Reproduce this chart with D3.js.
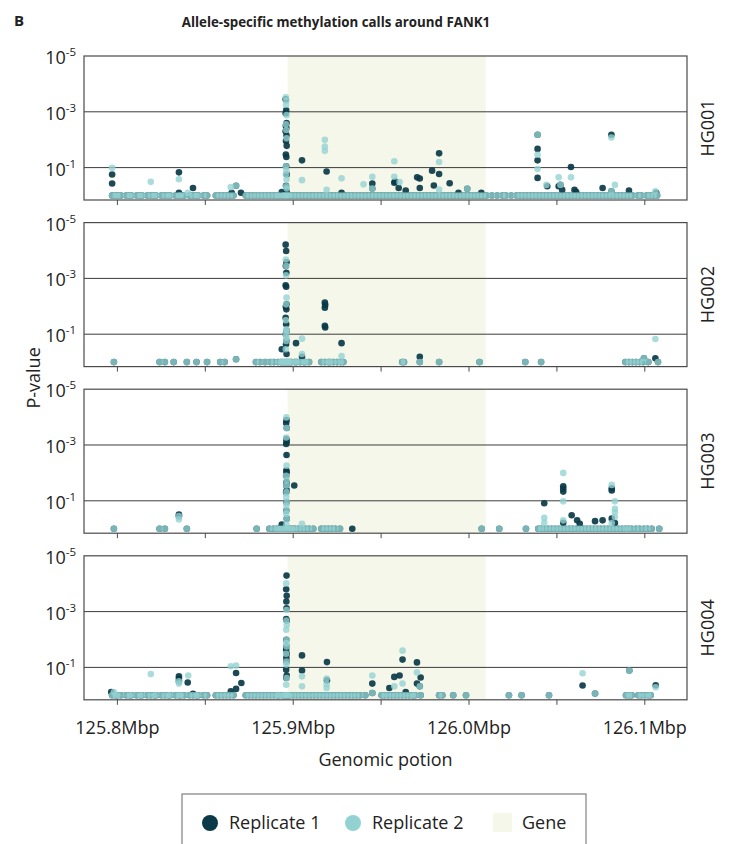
<!DOCTYPE html>
<html>
<head>
<meta charset="utf-8">
<script src="https://cdn.jsdelivr.net/npm/d3@7"></script>
<style>
  body { margin: 0; background: #fff; }
  svg { font-family: "Open Sans", "DejaVu Sans", sans-serif; }
</style>
</head>
<body>
<div id="chart"></div>
<script>
// samples (facets) and gene region
const samples = ["HG001", "HG002", "HG003", "HG004"];
const geneStart = 125.8968, geneEnd = 126.0095;
const xTicks = [125.8, 125.85, 125.9, 125.95, 126.0, 126.05, 126.1];
const xLabelTicks = [125.8, 125.9, 126.0, 126.1];
const yTicks = [1e-5, 1e-3, 1e-1];
const yGrid = [1e-3, 1e-1];

// positions (Mbp) where both replicates give p ~ 1
const hg001Base = [125.797,125.799,125.800,125.802,125.805,125.807,125.808,125.811,125.813,125.814,125.817,125.819,125.821,125.822,125.825,125.827,125.829,125.830,125.833,125.835,125.836,125.838,125.841,125.843,125.845,125.846,125.849,125.851,
  125.856,125.858,125.860,125.862,125.864,125.866,
  125.873,125.875,125.877,125.879,125.881,125.883,125.885,125.887,125.889,125.891,125.892,125.894,125.895,125.896,125.897,125.898,125.900,125.902,125.904,125.906,125.908,125.910,125.912,125.914,125.916,125.918,125.920,125.922,125.924,125.926,125.928,125.930,125.932,125.934,125.936,125.938,125.940,125.942,125.944,125.946,125.948,125.950,125.952,125.954,125.956,125.958,125.960,125.962,125.964,125.966,125.968,125.970,125.972,125.974,125.976,125.978,125.980,125.982,125.984,125.986,125.988,125.990,125.992,125.994,125.996,125.998,126.000,126.002,126.004,126.006,126.008,126.010,126.013,
  126.016,126.019,126.021,126.024,126.027,126.029,126.031,126.033,126.035,126.037,126.039,126.041,126.043,126.045,126.047,126.049,126.051,126.053,126.055,126.057,126.059,126.061,126.063,126.065,126.067,126.069,126.071,126.073,126.075,126.077,126.079,126.081,126.083,126.085,126.087,126.089,126.091,126.093,126.096,126.098,126.101,126.103,126.105,126.107];
const hg002Base = [125.798,125.824,125.827,125.832,125.8395,125.845,125.851,125.8585,125.861,125.8788,125.881,125.884,125.887,125.889,125.8915,
  125.893,125.894,125.895,125.896,125.897,125.898,125.899,125.901,125.902,125.904,125.906,125.907,125.909,
  125.916,125.918,125.920,125.921,125.923,125.925,125.927,125.9285,
  125.962,125.963,125.972,125.983,126.006,126.032,126.041,126.089,126.091,126.093,126.095,126.097,126.099,126.102,126.1075];
const hg003Base = [125.798,125.824,125.827,125.8395,125.8792,125.8864,125.8887,
  125.8906,125.892,125.8935,125.895,125.8965,125.898,125.8995,125.901,125.903,125.905,125.907,125.909,125.9114,
  125.916,125.918,125.920,125.922,125.924,125.9266,
  126.0072,126.0172,126.0324,
  126.0394,126.041,126.043,126.045,126.047,126.049,126.051,126.053,126.055,126.057,126.059,126.061,126.063,126.065,126.067,126.069,126.071,126.073,126.075,126.077,126.079,126.081,126.083,126.085,126.087,126.089,126.0906,
  126.0925,126.095,126.097,126.0995,126.1015,126.1039,126.1082];
const hg004Base = [125.797,125.799,125.800,125.802,125.805,125.807,125.808,125.811,125.813,125.814,125.817,125.819,125.821,125.822,125.825,125.827,125.829,125.830,125.833,125.835,125.836,125.838,125.841,125.843,125.845,125.846,125.849,125.851,
  125.856,125.858,125.860,125.862,125.864,125.866,
  125.873,125.875,125.877,125.879,125.881,125.883,125.885,125.887,125.889,125.891,125.892,125.894,125.895,125.896,125.897,125.898,125.900,125.902,125.904,125.906,125.908,125.910,125.912,125.914,125.916,125.918,125.920,125.922,125.924,125.926,125.928,125.930,125.932,125.934,125.936,125.938,125.941,
  125.9503,125.952,125.954,125.956,125.958,125.960,125.962,125.964,125.966,125.968,125.9693,125.9725,125.983,125.9848,125.991,125.9983,126.0227,126.0299,126.0455,126.0893,126.091,126.0925,126.0963,126.098,126.100,126.102,126.1033];

// [position Mbp, -log10(p)] for calls above the baseline
const hg001Rep1 = [[125.797,0.75],[125.797,0.43],[125.835,0.83],[125.835,0.1],[125.843,0.27],[125.8675,0.35],[125.865,0.1],[125.8703,0.1],[125.8935,0.12],
  [125.8957,3.45],[125.8960,3.05],[125.8957,2.95],[125.8962,2.6],[125.8958,2.5],[125.8961,2.42],[125.8957,2.3],[125.8962,2.15],[125.8959,1.95],[125.8963,1.78],[125.8958,1.47],[125.8961,1.38],[125.8960,1.05],[125.8963,0.75],[125.8959,0.35],[125.8962,0.15],
  [125.905,1.26],[125.919,0.86],[125.9275,0.1],
  [125.945,0.43],[125.945,0.25],[125.9575,0.46],[125.958,0.5],[125.960,0.27],[125.964,0.18],[125.9705,0.65],[125.972,0.61],[125.972,0.27],[125.979,0.89],[125.980,0.36],[125.983,1.51],[125.983,0.77],[125.989,0.44],[125.994,0.1],[125.999,0.24],[126.007,0.1],
  [126.039,2.18],[126.039,1.67],[126.039,1.26],[126.039,0.63],[126.0445,0.33],[126.051,0.33],[126.052,0.38],[126.053,0.2],[126.058,1.02],[126.060,0.2],[126.061,0.12],[126.076,0.27],[126.081,2.18],[126.081,0.15],[126.091,0.18],[126.1065,0.1]];
const hg001Rep2 = [[125.797,0.99],[125.819,0.49],[125.835,0.58],[125.840,0.1],[125.8645,0.3],[125.8675,0.35],
  [125.8958,3.52],[125.8961,3.4],[125.8959,3.25],[125.8962,2.88],[125.8958,2.55],[125.8961,2.35],[125.8963,2.05],[125.8958,1.05],[125.8961,0.9],[125.8959,0.75],[125.8962,0.57],[125.8960,0.33],[125.8963,0.25],
  [125.905,0.55],[125.918,2.0],[125.918,1.75],[125.918,1.6],[125.919,0.2],[125.9275,0.62],[125.940,0.4],
  [125.945,0.67],[125.945,0.25],[125.9575,1.23],[125.9575,0.67],[125.9605,0.48],[125.983,1.2],[125.983,0.21],[125.999,0.24],[126.039,2.18],[126.039,1.46],[126.039,0.95],[126.044,0.38],[126.051,0.65],[126.052,0.38],[126.058,0.65],[126.081,2.08],[126.081,0.15],[126.083,0.38],[126.106,0.15]];

const hg002Rep1 = [[125.8675,0.1],[125.8935,0.46],
  [125.8957,4.21],[125.8960,3.98],[125.8962,3.58],[125.8958,3.44],[125.8961,3.2],[125.8957,2.75],[125.8960,2.7],[125.8962,2.07],[125.8958,1.98],[125.8961,1.89],[125.8957,1.59],[125.8960,1.36],[125.8963,1.12],[125.8958,1.0],[125.8961,0.76],[125.8959,0.64],[125.8962,0.29],
  [125.9016,0.68],[125.905,0.19],[125.918,2.13],[125.9182,2.05],[125.918,1.95],[125.918,1.3],[125.9182,1.24],[125.9275,0.68],
  [125.972,0.19],[126.0995,0.14],[126.106,0.14]];
const hg002Rep2 = [[125.8675,0.1],
  [125.8958,3.68],[125.8961,3.44],[125.8959,3.11],[125.8962,2.31],[125.8960,2.07],[125.8958,1.5],[125.8961,1.18],[125.8963,1.12],[125.8959,1.0],[125.8962,0.88],[125.8960,0.76],[125.8958,0.46],
  [125.905,0.84],[125.905,0.29],[125.9275,0.22],[126.0995,0.14],[126.106,0.83]];

const hg003Rep1 = [[125.835,0.51],[125.835,0.45],
  [125.8962,3.89],[125.8960,3.79],[125.8963,3.61],[125.8961,3.21],[125.8963,3.12],[125.8960,3.04],[125.8962,2.64],[125.8961,2.08],[125.8963,2.02],[125.8960,1.9],[125.8962,1.67],[125.8961,1.55],[125.8963,1.37],[125.8960,1.31],[125.8962,0.95],[125.8961,0.65],[125.8963,0.36],
  [125.8935,0.15],[125.9006,1.55],[125.9336,0],
  [126.0428,0.91],[126.0536,1.52],[126.0536,1.43],[126.0536,1.33],[126.0536,0.21],[126.0584,0.48],[126.0615,0.3],[126.063,0.18],[126.0717,0.27],[126.076,0.3],[126.0812,1.45],[126.0812,1.37],[126.0812,0.36],[126.083,0.2]];
const hg003Rep2 = [[125.835,0.33],[125.835,0.45],
  [125.8961,3.99],[125.8963,3.61],[125.8960,3.27],[125.8962,2.26],[125.8960,1.9],[125.8963,1.73],[125.8961,1.55],[125.8962,1.31],[125.8960,1.13],[125.8963,0.95],[125.8961,0.83],[125.8962,0.65],[125.8960,0.54],[125.8963,0.36],[125.8961,0.14],
  [125.905,0.18],
  [126.0428,0.39],[126.0428,0.21],[126.0536,2.0],[126.0536,0.98],[126.0536,0.3],[126.0812,1.57],[126.083,0.98],[126.083,0.71],[126.083,0.59],[126.083,0.42],[126.0812,0.2]];

const hg004Rep1 = [[125.7965,0.12],[125.835,0.68],[125.835,0.6],[125.835,0.5],[125.840,0.46],[125.843,0.05],[125.8675,0.8],[125.8705,0.44],[125.8675,0.23],[125.8645,0.14],
  [125.8962,4.29],[125.8960,3.8],[125.8963,3.57],[125.8961,3.36],[125.8962,3.12],[125.8960,2.73],[125.8963,2.68],[125.8961,1.99],[125.8962,1.75],[125.8960,1.63],[125.8963,1.49],[125.8961,1.34],[125.8962,1.21],[125.8960,0.92],[125.8963,0.71],[125.8961,0.62],
  [125.905,1.43],[125.905,0.89],[125.9192,1.19],[125.9192,0.54],
  [125.945,0.42],[125.945,0.08],[125.9547,0.26],[125.9575,0.66],[125.9605,0.71],[125.9622,1.28],[125.964,0.12],[125.9704,1.18],[125.9704,0.42],[125.9725,0.64],[125.972,0.32],[126.0646,0.35],[126.0717,0.06],[126.0912,0.89],[126.1062,0.36]];
const hg004Rep2 = [[125.798,0.12],[125.819,0.76],[125.835,0.42],[125.835,0.5],[125.8403,0.71],[125.8645,1.04],[125.8675,1.07],
  [125.8960,4.01],[125.8962,3.06],[125.8961,2.68],[125.8963,2.52],[125.8960,2.35],[125.8962,1.99],[125.8961,1.87],[125.8963,1.75],[125.8960,1.49],[125.8962,1.21],[125.8961,1.1],[125.8963,0.62],[125.8960,0.38],
  [125.905,0.68],[125.905,0.32],[125.919,0.6],[125.919,0.4],[125.919,0.26],
  [125.945,0.71],[125.945,0.08],[125.9575,0.32],[125.9622,1.6],[125.9622,0.42],[125.9704,0.82],[125.972,0.32],[126.0646,0.79],[126.0717,0.06],[126.0912,0.89],[126.1062,0.29]];

const baseBySample = [hg001Base, hg002Base, hg003Base, hg004Base];
const rep1BySample = [hg001Rep1, hg002Rep1, hg003Rep1, hg004Rep1];
const rep2BySample = [hg001Rep2, hg002Rep2, hg003Rep2, hg004Rep2];

const colRep1 = "#0a3a48", colRep2 = "#93d2d2", colGene = "#f5f7ea";

const width = 730, height = 844;
const left = 84, plotW = 603, panelH = 144, firstTop = 56, panelStep = 166.6;

const svg = d3.select("#chart").append("svg")
  .attr("width", width).attr("height", height);

const x = d3.scaleLinear().domain([125.781, 126.124]).range([0, plotW]);
const y = d3.scaleLog().domain([1.45, 1e-5]).range([panelH, 0]);
const pOf = v => Math.pow(10, -v);

// title
svg.append("text").attr("x", 14).attr("y", 26)
  .attr("font-size", 15).attr("font-weight", "bold").attr("fill", "#222").text("B");
svg.append("text").attr("x", 336).attr("y", 27).attr("text-anchor", "middle")
  .attr("font-size", 13.3).attr("font-weight", "bold").attr("fill", "#222")
  .text("Allele-specific methylation calls around FANK1");

samples.forEach((s, i) => {
  const g = svg.append("g").attr("transform", `translate(${left},${firstTop + i * panelStep})`);

  // gene shading
  g.append("rect").attr("x", x(geneStart)).attr("y", 0)
    .attr("width", x(geneEnd) - x(geneStart)).attr("height", panelH)
    .attr("fill", colGene);

  // grid lines
  g.selectAll(".grid").data(yGrid).enter().append("line")
    .attr("x1", 0).attr("x2", plotW)
    .attr("y1", d => y(d)).attr("y2", d => y(d))
    .attr("stroke", "#3c3c3c").attr("stroke-width", 1);

  // replicate 1 under replicate 2
  const r1 = baseBySample[i].map(p => [p, 0]).concat(rep1BySample[i]);
  const r2 = baseBySample[i].map(p => [p, 0]).concat(rep2BySample[i]);
  g.selectAll(".r1").data(r1).enter().append("circle")
    .attr("cx", d => x(d[0])).attr("cy", d => y(pOf(d[1])))
    .attr("r", 3.3).attr("fill", colRep1).attr("fill-opacity", 0.92);
  g.selectAll(".r2").data(r2).enter().append("circle")
    .attr("cx", d => x(d[0])).attr("cy", d => y(pOf(d[1])))
    .attr("r", 3.3).attr("fill", colRep2).attr("fill-opacity", 0.78);

  // frame
  g.append("rect").attr("width", plotW).attr("height", panelH)
    .attr("fill", "none").attr("stroke", "#4a4a4a").attr("stroke-width", 1.2);

  // x tick marks
  g.selectAll(".tick").data(xTicks).enter().append("line")
    .attr("x1", d => x(d)).attr("x2", d => x(d))
    .attr("y1", panelH).attr("y2", panelH + 5)
    .attr("stroke", "#4a4a4a").attr("stroke-width", 1);

  // y tick labels
  yTicks.forEach(t => {
    const lab = g.append("text").attr("x", -8).attr("y", y(t) + 8)
      .attr("text-anchor", "end").attr("fill", "#222").attr("font-size", 18);
    lab.append("tspan").text("10");
    lab.append("tspan").attr("font-size", 11.5).attr("dy", -8)
      .text("-" + Math.round(-Math.log10(t)));
  });

  // facet label
  g.append("text")
    .attr("transform", `translate(${plotW + 22},${panelH / 2}) rotate(-90)`)
    .attr("text-anchor", "middle").attr("dominant-baseline", "middle")
    .attr("font-size", 18).attr("fill", "#222").text(s);
});

// x labels
const lastTop = firstTop + 3 * panelStep;
svg.selectAll(".xlab").data(xLabelTicks).enter().append("text")
  .attr("x", d => left + x(d)).attr("y", lastTop + panelH + 34)
  .attr("text-anchor", "middle").attr("font-size", 18).attr("fill", "#222")
  .text(d => d.toFixed(1) + "Mbp");

svg.append("text").attr("x", left + plotW / 2).attr("y", 766)
  .attr("text-anchor", "middle").attr("font-size", 18).attr("fill", "#222")
  .text("Genomic potion");

svg.append("text")
  .attr("transform", `translate(35,${firstTop + (3 * panelStep + panelH) / 2}) rotate(-90)`)
  .attr("text-anchor", "middle").attr("dominant-baseline", "middle")
  .attr("font-size", 18).attr("fill", "#222").text("P-value");

// legend
const leg = svg.append("g");
leg.append("rect").attr("x", 182).attr("y", 794).attr("width", 404).attr("height", 60)
  .attr("fill", "#fff").attr("stroke", "#666").attr("stroke-width", 1);
leg.append("circle").attr("cx", 210).attr("cy", 823).attr("r", 8).attr("fill", colRep1);
leg.append("text").attr("x", 229).attr("y", 829).attr("font-size", 18).attr("fill", "#222").text("Replicate 1");
leg.append("circle").attr("cx", 353).attr("cy", 823).attr("r", 8).attr("fill", colRep2);
leg.append("text").attr("x", 372).attr("y", 829).attr("font-size", 18).attr("fill", "#222").text("Replicate 2");
leg.append("rect").attr("x", 493).attr("y", 813).attr("width", 19).attr("height", 19).attr("fill", colGene);
leg.append("text").attr("x", 522).attr("y", 829).attr("font-size", 18).attr("fill", "#222").text("Gene");
</script>
</body>
</html>
